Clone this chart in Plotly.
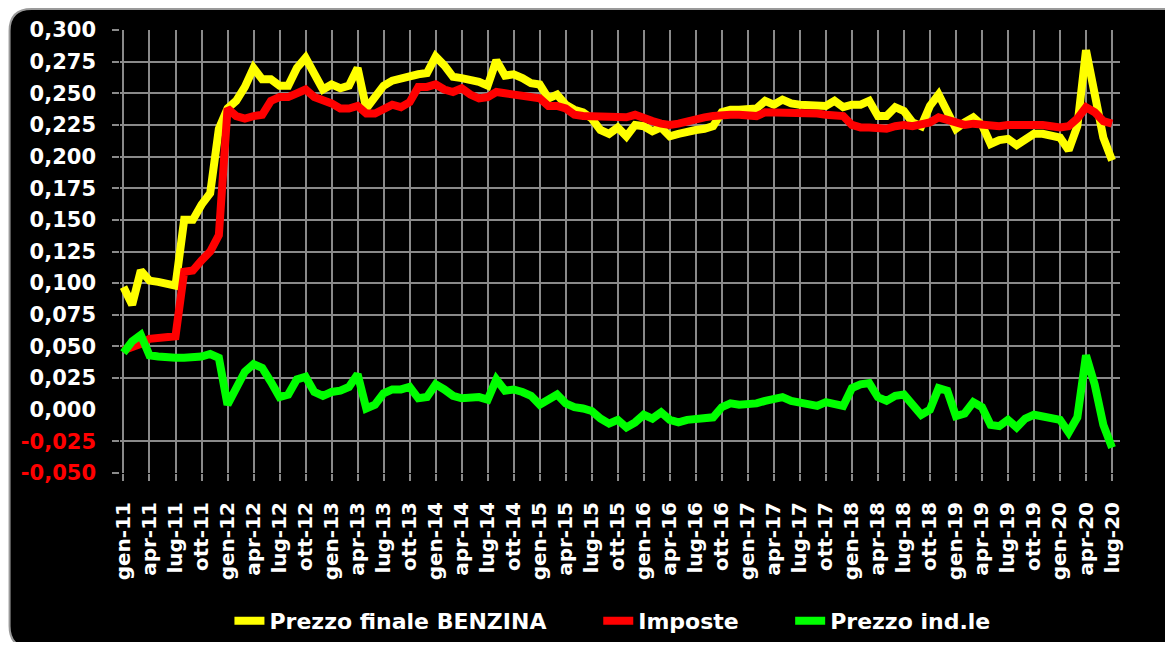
import plotly.graph_objects as go

# ---------------- data ----------------
month_index = list(range(115))  # gen-11 ... lug-20, monthly

benzina = [
    0.097, 0.083, 0.110, 0.102, 0.101, 0.100, 0.098, 0.150, 0.150, 0.162,
    0.171, 0.222, 0.238, 0.244, 0.255, 0.270, 0.261, 0.261, 0.256, 0.256,
    0.270, 0.278, 0.264, 0.253, 0.257, 0.254, 0.256, 0.270, 0.238, 0.246,
    0.256, 0.260, 0.262, 0.263, 0.265, 0.266, 0.279, 0.272, 0.263, 0.262,
    0.261, 0.259, 0.256, 0.276, 0.264, 0.265, 0.262, 0.258, 0.257, 0.246,
    0.249, 0.241, 0.237, 0.235, 0.230, 0.221, 0.218, 0.223, 0.216, 0.225,
    0.224, 0.220, 0.223, 0.216, 0.218, 0.220, 0.221, 0.222, 0.224, 0.235,
    0.237, 0.237, 0.237, 0.238, 0.244, 0.241, 0.245, 0.242, 0.241, 0.241,
    0.240, 0.240, 0.244, 0.239, 0.241, 0.241, 0.244, 0.232, 0.232, 0.239,
    0.236, 0.227, 0.224, 0.240, 0.249, 0.236, 0.222, 0.227, 0.231, 0.225,
    0.210, 0.213, 0.214, 0.209, 0.214, 0.218, 0.218, 0.217, 0.215, 0.205,
    0.224, 0.284, 0.250, 0.215, 0.197,
]

imposte = [
    0.047, 0.049, 0.052, 0.056, 0.057, 0.057, 0.058, 0.109, 0.110, 0.118,
    0.125, 0.138, 0.238, 0.232, 0.230, 0.232, 0.233, 0.244, 0.247, 0.247,
    0.250, 0.253, 0.247, 0.245, 0.242, 0.238, 0.238, 0.240, 0.234, 0.234,
    0.238, 0.241, 0.239, 0.243, 0.255, 0.255, 0.257, 0.253, 0.251, 0.254,
    0.249, 0.246, 0.247, 0.251, 0.250, 0.249, 0.248, 0.247, 0.246, 0.240,
    0.240, 0.238, 0.233, 0.232, 0.232, 0.232, 0.231, 0.232, 0.231, 0.233,
    0.230, 0.228, 0.226, 0.225, 0.226, 0.228, 0.230, 0.231, 0.232, 0.233,
    0.233, 0.233, 0.232, 0.232, 0.235, 0.235, 0.234, 0.234, 0.234, 0.234,
    0.234, 0.233, 0.233, 0.232, 0.225, 0.223, 0.223, 0.222, 0.222, 0.224,
    0.225, 0.224, 0.225, 0.227, 0.231, 0.229, 0.226, 0.225, 0.226, 0.225,
    0.224, 0.224, 0.225, 0.225, 0.226, 0.226, 0.225, 0.224, 0.223, 0.224,
    0.230, 0.239, 0.235, 0.228, 0.226,
]

prezzo_ind = [
    0.045, 0.054, 0.059, 0.043, 0.042, 0.041, 0.041, 0.041, 0.041, 0.042,
    0.044, 0.041, 0.004, 0.018, 0.030, 0.036, 0.033, 0.022, 0.010, 0.012,
    0.024, 0.026, 0.014, 0.011, 0.014, 0.015, 0.018, 0.028, 0.001, 0.004,
    0.013, 0.016, 0.016, 0.018, 0.009, 0.010, 0.020, 0.016, 0.011, 0.009,
    0.009, 0.010, 0.008, 0.024, 0.015, 0.016, 0.014, 0.011, 0.004, 0.008,
    0.012, 0.005, 0.002, 0.001, -0.001, -0.007, -0.011, -0.008, -0.014, -0.010,
    -0.004, -0.007, -0.002, -0.008, -0.010, -0.008, -0.007, -0.006, -0.006, 0.002,
    0.005, 0.004, 0.004, 0.005, 0.007, 0.008, 0.010, 0.007, 0.006, 0.005,
    0.003, 0.006, 0.005, 0.003, 0.017, 0.020, 0.021, 0.010, 0.007, 0.011,
    0.012, 0.004, -0.004, 0.000, 0.017, 0.015, -0.005, -0.003, 0.006, 0.002,
    -0.012, -0.013, -0.008, -0.014, -0.007, -0.004, -0.005, -0.006, -0.008, -0.018,
    -0.006, 0.043, 0.020, -0.012, -0.030,
]

x_tick_pos = list(range(0, 115, 3))
x_tick_labels = [
    "gen-11", "apr-11", "lug-11", "ott-11",
    "gen-12", "apr-12", "lug-12", "ott-12",
    "gen-13", "apr-13", "lug-13", "ott-13",
    "gen-14", "apr-14", "lug-14", "ott-14",
    "gen-15", "apr-15", "lug-15", "ott-15",
    "gen-16", "apr-16", "lug-16", "ott-16",
    "gen-17", "apr-17", "lug-17", "ott-17",
    "gen-18", "apr-18", "lug-18", "ott-18",
    "gen-19", "apr-19", "lug-19", "ott-19",
    "gen-20", "apr-20", "lug-20",
]

y_tick_vals = [-0.05, -0.025, 0.0, 0.025, 0.05, 0.075, 0.1, 0.125, 0.15,
               0.175, 0.2, 0.225, 0.25, 0.275, 0.3]
y_tick_labels = ["-0,050", "-0,025", "0,000", "0,025", "0,050", "0,075", "0,100",
                 "0,125", "0,150", "0,175", "0,200", "0,225", "0,250", "0,275", "0,300"]

series_names = ["Prezzo finale BENZINA", "Imposte", "Prezzo ind.le"]
series_colors = ["#FFFF00", "#FF0000", "#00FF00"]

# ---------------- figure ----------------
# page body has an 8px margin, so the figure is sized to fit the window
W, H = 1165, 634
ML, MR, MT, MB = 111.5, 53, 22, 169
PW, PH = W - ML - MR, H - MT - MB
FONT = "DejaVu Sans"
GRID = "#8a8a8a"


def px_x(p):
    return (p - ML) / PW


def px_y(p):
    return (H - MB - p) / PH


legend_ids = ["legend", "legend2", "legend3"]
legend_left = [221, 590, 782]  # figure px of each legend box

fig = go.Figure()
for name, vals, col, lg in zip(series_names, [benzina, imposte, prezzo_ind],
                               series_colors, legend_ids):
    fig.add_trace(go.Scatter(
        x=month_index, y=vals, name=name, mode="lines",
        line=dict(color=col, width=8), legend=lg,
    ))

# helper empty traces to anchor overlay axes (grid / tick marks)
fig.add_trace(go.Scatter(x=[], y=[], yaxis="y2", showlegend=False, hoverinfo="skip"))
fig.add_trace(go.Scatter(x=[], y=[], yaxis="y3", showlegend=False, hoverinfo="skip"))

ticktext_col = [
    (f'<span style="color:#FF0000">{t}</span>' if v < 0 else t)
    for v, t in zip(y_tick_vals, y_tick_labels)
]
grid_vals = [v for v in y_tick_vals if v != 0.0 and v != 0.3]
tick_vals_marks = [v for v in y_tick_vals if v != 0.0]

# black rounded panel
r = 22
x0, y0 = 1, 1
x1, y1 = W + 10, H + 6
path = (
    f"M {px_x(x0)},{px_y(y1 - r)} "
    f"L {px_x(x0)},{px_y(y0 + r)} "
    f"Q {px_x(x0)},{px_y(y0)} {px_x(x0 + r)},{px_y(y0)} "
    f"L {px_x(x1)},{px_y(y0)} "
    f"L {px_x(x1)},{px_y(y1)} "
    f"L {px_x(x0 + r)},{px_y(y1)} "
    f"Q {px_x(x0)},{px_y(y1)} {px_x(x0)},{px_y(y1 - r)} Z"
)
fig.add_shape(type="path", path=path, xref="paper", yref="paper",
              fillcolor="#000000", line=dict(color="#9a9a9a", width=2), layer="below")

legend_font = dict(family=FONT, size=22, color="#FFFFFF", weight="bold")
legend_common = dict(orientation="h", xanchor="left", yanchor="middle",
                     y=px_y(613), bgcolor="rgba(0,0,0,0)", font=legend_font,
                     itemwidth=30)

fig.update_layout(
    width=W, height=H,
    margin=dict(l=ML, r=MR, t=MT, b=MB, pad=0, autoexpand=False),
    paper_bgcolor="#FFFFFF",
    plot_bgcolor="rgba(0,0,0,0)",
    font=dict(family=FONT, color="#FFFFFF", size=20, weight="bold"),
    showlegend=True,
    legend=dict(x=px_x(legend_left[0]), **legend_common),
    legend2=dict(x=px_x(legend_left[1]), **legend_common),
    legend3=dict(x=px_x(legend_left[2]), **legend_common),
    xaxis=dict(
        range=[-0.4, 114.92], automargin=False,
        tickmode="array", tickvals=x_tick_pos, ticktext=x_tick_labels,
        tickangle=-90, showgrid=True, gridcolor=GRID, gridwidth=1.6,
        ticks="outside", ticklen=7, tickcolor=GRID, tickwidth=1.6,
        ticklabelstandoff=13,
        tickfont=dict(family=FONT, size=20, color="#FFFFFF", weight="bold"),
        zeroline=False, showline=False,
    ),
    yaxis=dict(
        range=[-0.05, 0.3], automargin=False,
        tickmode="array", tickvals=y_tick_vals, ticktext=ticktext_col,
        showgrid=False, zeroline=False, showline=False, ticks="",
        ticklabelstandoff=23,
        tickfont=dict(family=FONT, size=21, color="#FFFFFF", weight="bold"),
    ),
    yaxis2=dict(
        range=[-0.05, 0.3], overlaying="y", side="left", automargin=False,
        tickmode="array", tickvals=grid_vals,
        showgrid=True, gridcolor=GRID, gridwidth=1.6,
        showticklabels=False, zeroline=False, showline=False, ticks="",
    ),
    yaxis3=dict(
        range=[-0.05, 0.3], overlaying="y", side="left", automargin=False,
        tickmode="array", tickvals=tick_vals_marks,
        showgrid=False, showticklabels=False, zeroline=False, showline=False,
        ticks="outside", ticklen=7, tickcolor=GRID, tickwidth=1.6,
    ),
)

fig.write_html("out.html")
